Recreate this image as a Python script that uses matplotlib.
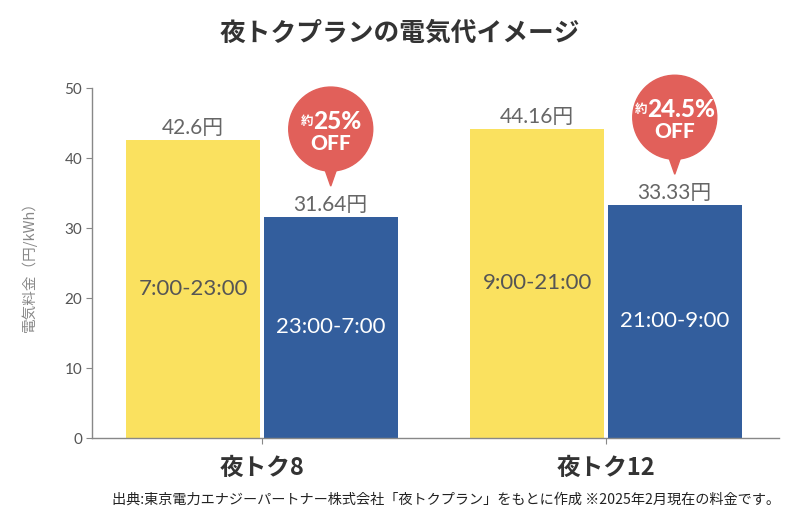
import matplotlib
matplotlib.use('Agg')
import matplotlib.pyplot as plt
import numpy as np
from matplotlib.patches import Circle, Polygon
from matplotlib.transforms import ScaledTranslation

plt.rcParams['font.family'] = ['Noto Sans CJK JP', 'DejaVu Sans']
NUM_FONT = ['Lato', 'Noto Sans CJK JP']

# データ
plans = ['夜トク8', '夜トク12']
day_price = [42.6, 44.16]
night_price = [31.64, 33.33]
day_hours = ['7:00-23:00', '9:00-21:00']
night_hours = ['23:00-7:00', '21:00-9:00']
discount = ['25%', '24.5%']
yticks = [0, 10, 20, 30, 40, 50]

YELLOW = '#FAE15F'
BLUE = '#335E9D'
RED = '#E1605A'
GRAY = '#666666'

fig = plt.figure(figsize=(8, 5.19), dpi=100)
ax = fig.add_axes([92 / 800, (519 - 438) / 519, (779 - 92) / 800, 350 / 519])

x = np.arange(len(plans))
w = 0.39
ax.bar(x - 0.2, day_price, w, color=YELLOW)
ax.bar(x + 0.2, night_price, w, color=BLUE)

ax.set_xlim(-0.494, 1.503)
ax.set_ylim(0, 50)
ax.set_yticks(yticks)
ax.set_xticks(x, plans, fontsize=17, fontweight='bold', color='#333333')
for lab in ax.get_yticklabels():
    lab.set_family(NUM_FONT)
ax.tick_params(axis='y', labelsize=11, labelcolor='#555555', color='#888888', length=4, pad=3)
ax.tick_params(axis='x', color='#888888', length=4, pad=9)
for s in ['top', 'right']:
    ax.spines[s].set_visible(False)
for s in ['left', 'bottom']:
    ax.spines[s].set_color('#888888')
    ax.spines[s].set_linewidth(1)

# 値ラベル・時間帯ラベル
for i in range(len(plans)):
    ax.text(x[i] - 0.2, day_price[i] + 1.7, f'{day_price[i]:g}円', ha='center', va='center',
            fontsize=15, color=GRAY, family=NUM_FONT)
    ax.text(x[i] + 0.2, night_price[i] + 1.7, f'{night_price[i]:g}円', ha='center', va='center',
            fontsize=15, color=GRAY, family=NUM_FONT)
    ax.text(x[i] - 0.2, day_price[i] / 2, day_hours[i], ha='center', va='center',
            fontsize=16, color='#555555', family=NUM_FONT)
    ax.text(x[i] + 0.2, night_price[i] / 2, night_hours[i], ha='center', va='center',
            fontsize=16, color='white', family=NUM_FONT)

# 割引バッジ
renderer = fig.canvas.get_renderer()
for i in range(len(plans)):
    trans = fig.dpi_scale_trans + ScaledTranslation(x[i] + 0.2, night_price[i] + 4.35, ax.transData)
    cy = 0.57
    ax.add_patch(Circle((0, cy), 0.42, transform=trans, color=RED, clip_on=False, zorder=5))
    ax.add_patch(Polygon([(-0.07, 0.2), (0.07, 0.2), (0, 0)], closed=True, transform=trans,
                         color=RED, clip_on=False, zorder=5))
    t1 = ax.text(0, cy + 0.08, '約', transform=trans, ha='left', va='center', fontsize=9,
                 fontweight='bold', color='white', zorder=6)
    t2 = ax.text(0, cy + 0.08, discount[i], transform=trans, ha='left', va='center', fontsize=17.5,
                 fontweight='black', color='white', zorder=6, family=NUM_FONT)
    w1 = t1.get_window_extent(renderer).width / fig.dpi
    w2 = t2.get_window_extent(renderer).width / fig.dpi
    start = -(w1 + w2) / 2
    t1.set_x(start)
    t2.set_x(start + w1)
    ax.text(0, cy - 0.14, 'OFF', transform=trans, ha='center', va='center', fontsize=15,
            fontweight='black', color='white', zorder=6, family=NUM_FONT)

fig.text(400 / 800, 1 - 33 / 519, '夜トクプランの電気代イメージ', ha='center', va='center',
         fontsize=18.5, fontweight='bold', color='#333333')
fig.text(29 / 800, 1 - 263 / 519, '電気料金（円/kWh）', rotation=90, ha='center', va='center',
         fontsize=10.5, color='#888888')
fig.text(780 / 800, 1 - 500 / 519,
         '出典:東京電力エナジーパートナー株式会社「夜トクプラン」をもとに作成 ※2025年2月現在の料金です。',
         ha='right', va='center', fontsize=10.2, color='#222222')

fig.savefig('out.png', dpi=100)
